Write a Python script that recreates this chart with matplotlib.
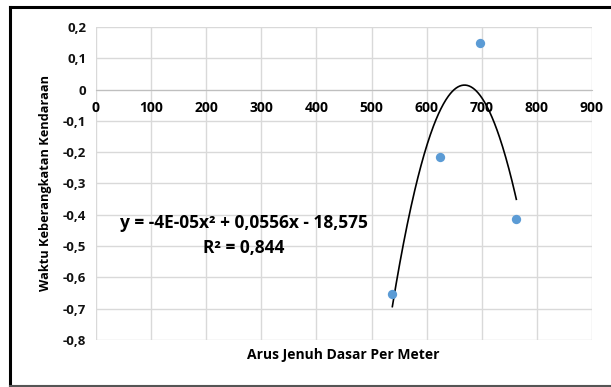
import numpy as np
from matplotlib import pyplot as plt
from matplotlib.lines import Line2D

# data
arus = [537.7, 624.0, 697.0, 762.7]
waktu = [-0.652, -0.2145, 0.149, -0.413]
xticks = [0, 100, 200, 300, 400, 500, 600, 700, 800, 900]
yticks = [-0.8, -0.7, -0.6, -0.5, -0.4, -0.3, -0.2, -0.1, 0, 0.1, 0.2]
persamaan = "y = -4E-05x² + 0,0556x - 18,575"
r2 = "R² = 0,844"

plt.rcParams['font.family'] = ['Open Sans', 'DejaVu Sans']
plt.rcParams['font.weight'] = 'bold'

fig = plt.figure(figsize=(6.11, 3.87), dpi=100)
ax = fig.add_axes([96/611, 1-340/387, 496/611, 313/387])

# trendline (2nd order polynomial fitted to the points)
coef = np.polyfit(arus, waktu, 2)
xs = np.linspace(min(arus), max(arus), 200)
ax.plot(xs, np.polyval(coef, xs), color='black', lw=1.2, zorder=3)

ax.scatter(arus, waktu, s=45, color='#5B9BD5', zorder=4, linewidths=0)

ax.set_xlim(0, 900)
ax.set_ylim(-0.8, 0.2)
ax.set_xticks(xticks)
ax.set_yticks(yticks)
ax.set_xticklabels([str(t) for t in xticks], fontsize=9.5)
ax.set_yticklabels([('%g' % t).replace('.', ',') for t in yticks], fontsize=9.5)
for lab in ax.get_xticklabels() + ax.get_yticklabels():
    lab.set_fontweight('bold')
    lab.set_color('#111111')
ax.grid(True, color='#D9D9D9', lw=1)
ax.set_axisbelow(True)

for s in ['top', 'right', 'left']:
    ax.spines[s].set_visible(False)
ax.spines['bottom'].set_position(('data', 0))
ax.spines['bottom'].set_color('#BFBFBF')
ax.tick_params(axis='both', length=0)
ax.tick_params(axis='x', pad=8)
ax.tick_params(axis='y', pad=7)

ax.text(268, -0.426, persamaan, ha='center', va='center', fontsize=12.5, fontweight='bold')
ax.text(268, -0.506, r2, ha='center', va='center', fontsize=12.5, fontweight='bold')

fig.text(46/611, 1-183/387, 'Waktu Keberangkatan Kendaraan', rotation=90,
         ha='center', va='center', fontsize=9.2, fontweight='bold')
fig.text(343/611, 1-355/387, 'Arus Jenuh Dasar Per Meter',
         ha='center', va='center', fontsize=10, fontweight='bold')

# frame around the picture (cropped at right side)
top = 1 - 7/387
left = 10/611
fig.lines.append(Line2D([left, 1], [top, top], transform=fig.transFigure, color='black', lw=2.2))
fig.lines.append(Line2D([left, left], [0, top], transform=fig.transFigure, color='black', lw=2.2))
fig.lines.append(Line2D([left, 1], [0.003, 0.003], transform=fig.transFigure, color='#555555', lw=1.5))

fig.savefig('out.png', dpi=100)
